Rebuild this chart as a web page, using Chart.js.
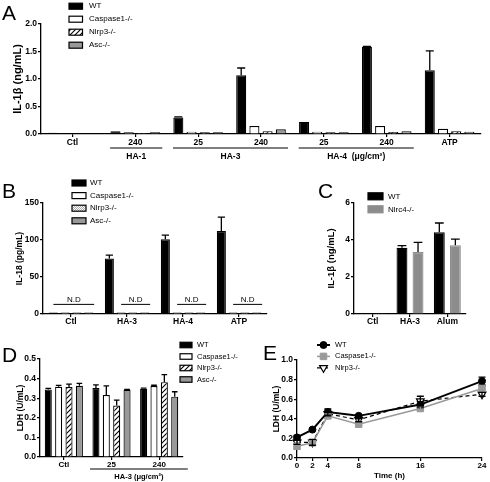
<!DOCTYPE html>
<html>
<head>
<meta charset="utf-8">
<script src="https://cdn.jsdelivr.net/npm/chart.js@4.4.0/dist/chart.umd.min.js"></script>
<style>
  html, body { margin: 0; padding: 0; background: #fff; }
  #wrap { position: relative; width: 490px; height: 482px; overflow: hidden; }
  #wrap canvas { position: absolute; left: 0; top: 0; }
</style>
</head>
<body>
<div id="wrap">
  <canvas id="chartA" width="490" height="482"></canvas>
  <canvas id="chartB" width="490" height="482"></canvas>
  <canvas id="chartC" width="490" height="482"></canvas>
  <canvas id="chartD" width="490" height="482"></canvas>
  <canvas id="chartE" width="490" height="482"></canvas>
</div>
<script>
// ---- Panel A: IL-1β ----
const catsA = ['Ctl', '240', '25', '240', '25', '240', 'ATP'];
const wtA = [0.025, 0.05, 0.30, 1.07, 0.22, 1.585, 1.16];
const wtErrA = [0, 0, 0.01, 0.13, 0, 0.01, 0.35];
const cas1A = [0, 0.03, 0.04, 0.145, 0.04, 0.145, 0.095];
const nlrp3A = [0, 0.02, 0.03, 0.05, 0.03, 0.035, 0.05];
const ascA = [0, 0.03, 0.03, 0.085, 0.03, 0.05, 0.04];
const yTicksA = [0, 0.5, 1, 1.5, 2];
const yLabelsA = ['0.0', '0.5', '1.0', '1.5', '2.0'];
const groupsA = [
  { from: 1, to: 1, label: 'HA-1' },
  { from: 2, to: 3, label: 'HA-3' },
  { from: 4, to: 5, label: 'HA-4  (μg/cm²)' }
];

// ---- Panel B: IL-18 ----
const catsB = ['Ctl', 'HA-3', 'HA-4', 'ATP'];
const wtB = [2, 75, 101, 112];
const wtErrB = [0, 4.5, 5.5, 19];
const cas1B = [2, 2, 2, 2];
const nlrp3B = [2, 2, 2, 2];
const ascB = [2, 2, 2, 2];
const ndFirstB = [0, 1, 1, 1];   // first not-detected series in each group
const yTicksB = [0, 50, 100, 150];
const yLabelsB = ['0', '50', '100', '150'];

// ---- Panel C: IL-1β, Nlrc4 ----
const catsC = ['Ctl', 'HA-3', 'Alum'];
const wtC = [0.03, 3.58, 4.42];
const wtErrC = [0, 0.12, 0.5];
const nlrc4C = [0.02, 3.35, 3.72];
const nlrc4ErrC = [0, 0.52, 0.33];
const yTicksC = [0, 2, 4, 6];
const yLabelsC = ['0', '2', '4', '6'];

// ---- Panel D: LDH ----
const catsD = ['Ctl', '25', '240'];
const wtD = [0.345, 0.352, 0.348];
const wtErrD = [0.005, 0.016, 0.003];
const cas1D = [0.358, 0.316, 0.362];
const cas1ErrD = [0.007, 0.047, 0.004];
const nlrp3D = [0.357, 0.263, 0.382];
const nlrp3ErrD = [0.015, 0.027, 0.038];
const ascD = [0.363, 0.343, 0.308];
const ascErrD = [0.013, 0.002, 0.025];
const yTicksD = [0, 0.1, 0.2, 0.3, 0.4, 0.5];
const yLabelsD = ['0.0', '0.1', '0.2', '0.3', '0.4', '0.5'];

// ---- Panel E: LDH over time ----
const timeE = [0, 2, 4, 8, 16, 24];
const wtE = [0.21, 0.29, 0.47, 0.43, 0.545, 0.785];
const wtErrE = [0.02, 0.01, 0.03, 0.01, 0.03, 0.04];
const cas1E = [0.12, 0.155, 0.43, 0.345, 0.505, 0.71];
const cas1ErrE = [0.03, 0.01, 0.02, 0.02, 0.02, 0.03];
const nlrp3E = [0.16, 0.16, 0.45, 0.39, 0.58, 0.65];
const nlrp3ErrE = [0.02, 0.03, 0.02, 0.02, 0.05, 0.02];
const xTicksE = [0, 2, 4, 8, 16, 24];
const xLabelsE = ['0', '2', '4', '8', '16', '24'];
const yTicksE = [0, 0.2, 0.4, 0.6, 0.8, 1.0];
const yLabelsE = ['0.0', '0.2', '0.4', '0.6', '0.8', '1.0'];

const FONT = 'Arial, "Liberation Sans", Helvetica, sans-serif';
Chart.defaults.font.family = FONT;
Chart.defaults.color = '#000';
Chart.defaults.animation = false;
Chart.defaults.plugins.legend.display = false;
Chart.defaults.plugins.tooltip.enabled = false;

const BLACK = '#000', WHITE = '#fff', GRAY = '#999';

function makePattern(size, paint) {
  const c = document.createElement('canvas');
  c.width = size; c.height = size;
  const g = c.getContext('2d');
  paint(g);
  return g.createPattern(c, 'repeat');
}
const HATCH = makePattern(5, g => {
  g.fillStyle = '#fff'; g.fillRect(0, 0, 5, 5);
  g.strokeStyle = '#000'; g.lineWidth = 1.1;
  g.beginPath();
  g.moveTo(-1, 6); g.lineTo(6, -1);
  g.moveTo(-1, 1); g.lineTo(1, -1);
  g.moveTo(4, 6); g.lineTo(6, 4);
  g.stroke();
});
const DOTS = makePattern(2, g => {
  g.fillStyle = '#fff'; g.fillRect(0, 0, 2, 2);
  g.fillStyle = '#aaa'; g.fillRect(0, 0, 1, 1); g.fillRect(1, 1, 1, 1);
});

// chart area -> layout padding (all canvases cover the whole figure)
function pad(L, R, T, B, yW, xH) {
  return { left: L - yW, right: 490 - R, top: T, bottom: 482 - B - xH };
}

function catAxis(size, padding, height, tickLen) {
  return {
    type: 'category', offset: true,
    grid: { display: true, offset: false, drawOnChartArea: false, drawTicks: true, tickLength: tickLen, color: '#000', lineWidth: 1.2 },
    border: { display: true, color: '#000', width: 1.3 },
    ticks: { font: { size: size, weight: 'bold' }, color: '#000', padding: padding, maxRotation: 0, autoSkip: false },
    afterFit: s => { s.height = height; }
  };
}

function valAxis(vals, labels, title, titleSize, titleX, L, yW) {
  return {
    type: 'linear', min: vals[0], max: vals[vals.length - 1],
    afterBuildTicks: s => { s.ticks = vals.map(v => ({ value: v })); },
    ticks: { callback: (v, i) => labels[i], font: { size: 8.5, weight: 'bold' }, color: '#000', padding: 1 },
    grid: { display: true, drawOnChartArea: false, drawTicks: true, tickLength: 3, color: '#000', lineWidth: 1.2 },
    border: { display: true, color: '#000', width: 1.3 },
    title: { display: true, text: title, color: '#000', font: { size: titleSize, weight: 'bold' },
      padding: { top: titleX - (L - yW) - titleSize * 0.6, bottom: 0 } },
    afterFit: s => { s.width = yW; }
  };
}

function barSet(label, data, errors, bg, cp, bp, border) {
  return { label, data, errors, backgroundColor: bg, borderColor: border || BLACK, borderWidth: 1.2,
    borderSkipped: 'start', categoryPercentage: cp, barPercentage: bp };
}

const errorBars = {
  id: 'errorBars',
  afterDatasetsDraw(chart) {
    const ctx = chart.ctx, ys = chart.scales.y;
    chart.data.datasets.forEach((ds, i) => {
      if (!ds.errors) return;
      const meta = chart.getDatasetMeta(i);
      ctx.save();
      ctx.strokeStyle = ds.errorColor || BLACK;
      ctx.lineWidth = 1.3;
      meta.data.forEach((el, j) => {
        const e = ds.errors[j];
        if (!e) return;
        const raw = ds.data[j];
        const v = typeof raw === 'object' ? raw.y : raw;
        const top = ys.getPixelForValue(v + e);
        const bot = chart.config.type === 'line' ? ys.getPixelForValue(v - e) : el.y;
        const cw = el.width ? el.width * 0.8 : 7;
        ctx.beginPath();
        ctx.moveTo(el.x, bot); ctx.lineTo(el.x, top);
        ctx.moveTo(el.x - cw / 2, top); ctx.lineTo(el.x + cw / 2, top);
        if (chart.config.type === 'line') { ctx.moveTo(el.x - cw / 2, bot); ctx.lineTo(el.x + cw / 2, bot); }
        ctx.stroke();
      });
      ctx.restore();
    });
  }
};

function decor(cfg) {
  return {
    id: 'decor',
    afterDraw(chart) {
      const ctx = chart.ctx;
      ctx.save();
      ctx.fillStyle = BLACK;
      // panel letter
      ctx.font = '21px ' + FONT;
      ctx.textAlign = 'left'; ctx.textBaseline = 'alphabetic';
      ctx.fillText(cfg.letter[0], cfg.letter[1], cfg.letter[2]);
      // legend
      const L = cfg.legend;
      chart.data.datasets.forEach((ds, i) => {
        const cy = L.y + i * L.dy;
        if (L.kind === 'line') {
          ctx.strokeStyle = ds.borderColor; ctx.lineWidth = ds.borderWidth;
          ctx.setLineDash(ds.borderDash || []);
          ctx.beginPath(); ctx.moveTo(L.x, cy); ctx.lineTo(L.x + L.w, cy); ctx.stroke();
          ctx.setLineDash([]);
          ctx.fillStyle = ds.pointBackgroundColor; ctx.strokeStyle = ds.pointBorderColor;
          ctx.lineWidth = ds.pointBorderWidth;
          Chart.helpers.drawPoint(ctx, { pointStyle: ds.pointStyle, rotation: ds.pointRotation || 0,
            radius: ds.pointRadius, borderWidth: ds.pointBorderWidth }, L.x + L.w / 2, cy);
        } else {
          ctx.fillStyle = ds.backgroundColor;
          ctx.fillRect(L.x, cy - L.h / 2, L.w, L.h);
          ctx.strokeStyle = ds.borderColor; ctx.lineWidth = 1.2;
          ctx.strokeRect(L.x, cy - L.h / 2, L.w, L.h);
        }
        ctx.fillStyle = BLACK;
        ctx.font = L.size + 'px ' + FONT;
        ctx.textAlign = 'left'; ctx.textBaseline = 'middle';
        ctx.fillText(ds.label, L.tx, cy);
      });
      // group brackets under the x axis
      if (cfg.groups) {
        const G = cfg.groups, xs = chart.scales.x;
        const w = (xs.right - xs.left) / chart.data.labels.length;
        G.items.forEach(g => {
          const x1 = xs.getPixelForValue(g.from) - G.a * w;
          const x2 = xs.getPixelForValue(g.to) + G.b * w;
          ctx.strokeStyle = BLACK; ctx.lineWidth = 1.1;
          ctx.beginPath(); ctx.moveTo(x1, G.lineY); ctx.lineTo(x2, G.lineY); ctx.stroke();
          ctx.font = 'bold ' + G.size + 'px ' + FONT;
          ctx.textAlign = 'center'; ctx.textBaseline = 'middle';
          ctx.fillText(g.label, (x1 + x2) / 2, G.labelY);
        });
      }
      // not-detected marks
      if (cfg.nd) {
        const N = cfg.nd, ys = chart.scales.y;
        const ly = ys.getPixelForValue(N.level);
        const lastIdx = chart.data.datasets.length - 1;
        chart.data.labels.forEach((lab, j) => {
          const first = chart.getDatasetMeta(N.first[j]).data[j];
          const last = chart.getDatasetMeta(lastIdx).data[j];
          const x1 = first.x, x2 = last.x + last.width / 2 + 1;
          ctx.strokeStyle = BLACK; ctx.lineWidth = 1;
          ctx.beginPath(); ctx.moveTo(x1, ly); ctx.lineTo(x2, ly); ctx.stroke();
          ctx.font = '8px ' + FONT;
          ctx.textAlign = 'center'; ctx.textBaseline = 'alphabetic';
          ctx.fillText('N.D', (x1 + x2) / 2, ly - 2);
        });
      }
      ctx.restore();
    }
  };
}

// A
new Chart(document.getElementById('chartA'), {
  type: 'bar',
  data: {
    labels: catsA,
    datasets: [
      barSet('WT', wtA, wtErrA, BLACK, 0.84, 0.76),
      barSet('Caspase1-/-', cas1A, null, WHITE, 0.84, 0.76),
      barSet('Nlrp3-/-', nlrp3A, null, HATCH, 0.84, 0.76),
      barSet('Asc-/-', ascA, null, GRAY, 0.84, 0.76)
    ]
  },
  options: {
    responsive: false, devicePixelRatio: 1,
    layout: { padding: pad(41, 481, 24, 134, 40, 30) },
    scales: {
      x: catAxis(8.5, 1, 30, 3),
      y: valAxis(yTicksA, yLabelsA, 'IL-1β (ng/mL)', 11, 18, 41, 40)
    }
  },
  plugins: [errorBars, decor({
    letter: ['A', 2, 20],
    legend: { x: 69, y: 6.2, dy: 13, w: 13.5, h: 6, tx: 89, size: 8 },
    groups: { items: groupsA, a: 0.4, b: 0.43, lineY: 148, labelY: 157, size: 8.5 }
  })]
});

// B
new Chart(document.getElementById('chartB'), {
  type: 'bar',
  data: {
    labels: catsB,
    datasets: [
      barSet('WT', wtB, wtErrB, BLACK, 0.84, 0.77),
      barSet('Caspase1-/-', cas1B, null, WHITE, 0.84, 0.77),
      barSet('Nlrp3-/-', nlrp3B, null, DOTS, 0.84, 0.77),
      barSet('Asc-/-', ascB, null, GRAY, 0.84, 0.77)
    ]
  },
  options: {
    responsive: false, devicePixelRatio: 1,
    layout: { padding: pad(43, 267, 203, 314, 40, 30) },
    scales: {
      x: catAxis(8.5, 0, 30, 3),
      y: valAxis(yTicksB, yLabelsB, 'IL-18 (pg/mL)', 8.5, 20, 43, 40)
    }
  },
  plugins: [errorBars, decor({
    letter: ['B', 2, 198],
    legend: { x: 72, y: 183, dy: 12.6, w: 14, h: 6, tx: 90, size: 8 },
    nd: { level: 13, first: ndFirstB }
  })]
});

// C
new Chart(document.getElementById('chartC'), {
  type: 'bar',
  data: {
    labels: catsC,
    datasets: [
      barSet('WT', wtC, wtErrC, BLACK, 0.86, 0.68),
      barSet('Nlrc4-/-', nlrc4C, nlrc4ErrC, '#8c8c8c', 0.86, 0.68, '#8c8c8c')
    ]
  },
  options: {
    responsive: false, devicePixelRatio: 1,
    layout: { padding: pad(354, 466, 203, 314, 40, 30) },
    scales: {
      x: catAxis(8.5, 0, 30, 3),
      y: valAxis(yTicksC, yLabelsC, 'IL-1β (ng/mL)', 9.5, 331, 354, 40)
    }
  },
  plugins: [errorBars, decor({
    letter: ['C', 318, 198],
    legend: { x: 368, y: 196.3, dy: 13, w: 15, h: 7, tx: 388, size: 8 }
  })]
});

// D
new Chart(document.getElementById('chartD'), {
  type: 'bar',
  data: {
    labels: catsD,
    datasets: [
      barSet('WT', wtD, wtErrD, BLACK, 0.87, 0.68),
      barSet('Caspase1-/-', cas1D, cas1ErrD, WHITE, 0.87, 0.68),
      barSet('Nlrp3-/-', nlrp3D, nlrp3ErrD, HATCH, 0.87, 0.68),
      barSet('Asc-/-', ascD, ascErrD, GRAY, 0.87, 0.68)
    ]
  },
  options: {
    responsive: false, devicePixelRatio: 1,
    layout: { padding: pad(40, 183, 359, 457, 40, 20) },
    scales: {
      x: catAxis(8, 0, 20, 3),
      y: valAxis(yTicksD, yLabelsD, 'LDH (U/mL)', 8.5, 21, 40, 40)
    }
  },
  plugins: [errorBars, decor({
    letter: ['D', 2, 362],
    legend: { x: 180, y: 345, dy: 11.5, w: 12, h: 5.5, tx: 197, size: 7.5 },
    groups: { items: [{ from: 1, to: 2, label: 'HA-3 (μg/cm²)' }], a: 0.45, b: 0.6, lineY: 469, labelY: 477, size: 7.5 }
  })]
});

// E
const pts = (xs, ys) => xs.map((x, i) => ({ x: x, y: ys[i] }));
new Chart(document.getElementById('chartE'), {
  type: 'line',
  data: {
    datasets: [
      { label: 'WT', data: pts(timeE, wtE), errors: wtErrE, borderColor: BLACK, borderWidth: 2,
        pointStyle: 'circle', pointRadius: 3.5, pointBackgroundColor: BLACK, pointBorderColor: BLACK,
        pointBorderWidth: 1, clip: false, tension: 0 },
      { label: 'Caspase1-/-', data: pts(timeE, cas1E), errors: cas1ErrE, errorColor: GRAY, borderColor: GRAY,
        borderWidth: 1.5, pointStyle: 'rect', pointRadius: 4.6, pointBackgroundColor: GRAY, pointBorderColor: GRAY,
        pointBorderWidth: 1, clip: false, tension: 0 },
      { label: 'Nlrp3-/-', data: pts(timeE, nlrp3E), errors: nlrp3ErrE, borderColor: BLACK, borderWidth: 1.2,
        borderDash: [4, 3], pointStyle: 'triangle', pointRotation: 180, pointRadius: 4.5,
        pointBackgroundColor: WHITE, pointBorderColor: BLACK, pointBorderWidth: 1.2, clip: false, tension: 0 }
    ]
  },
  options: {
    responsive: false, devicePixelRatio: 1,
    layout: { padding: pad(297, 482, 360, 458, 40, 24) },
    scales: {
      x: {
        type: 'linear', min: 0, max: 24,
        afterBuildTicks: s => { s.ticks = xTicksE.map(v => ({ value: v })); },
        ticks: { callback: (v, i) => xLabelsE[i], font: { size: 8, weight: 'bold' }, color: '#000', padding: 0, maxRotation: 0 },
        grid: { display: true, drawOnChartArea: false, drawTicks: true, tickLength: 3, color: '#000', lineWidth: 1.2 },
        border: { display: true, color: '#000', width: 1.3 },
        title: { display: true, text: 'Time (h)', color: '#000', font: { size: 8, weight: 'bold' }, padding: { top: 0, bottom: 1 } },
        afterFit: s => { s.height = 24; }
      },
      y: valAxis(yTicksE, yLabelsE, 'LDH (U/mL)', 8.5, 277, 297, 40)
    }
  },
  plugins: [errorBars, decor({
    letter: ['E', 263, 360],
    legend: { kind: 'line', x: 317, y: 345, dy: 11.4, w: 13, tx: 335, size: 7.5 }
  })]
});
</script>
</body>
</html>
